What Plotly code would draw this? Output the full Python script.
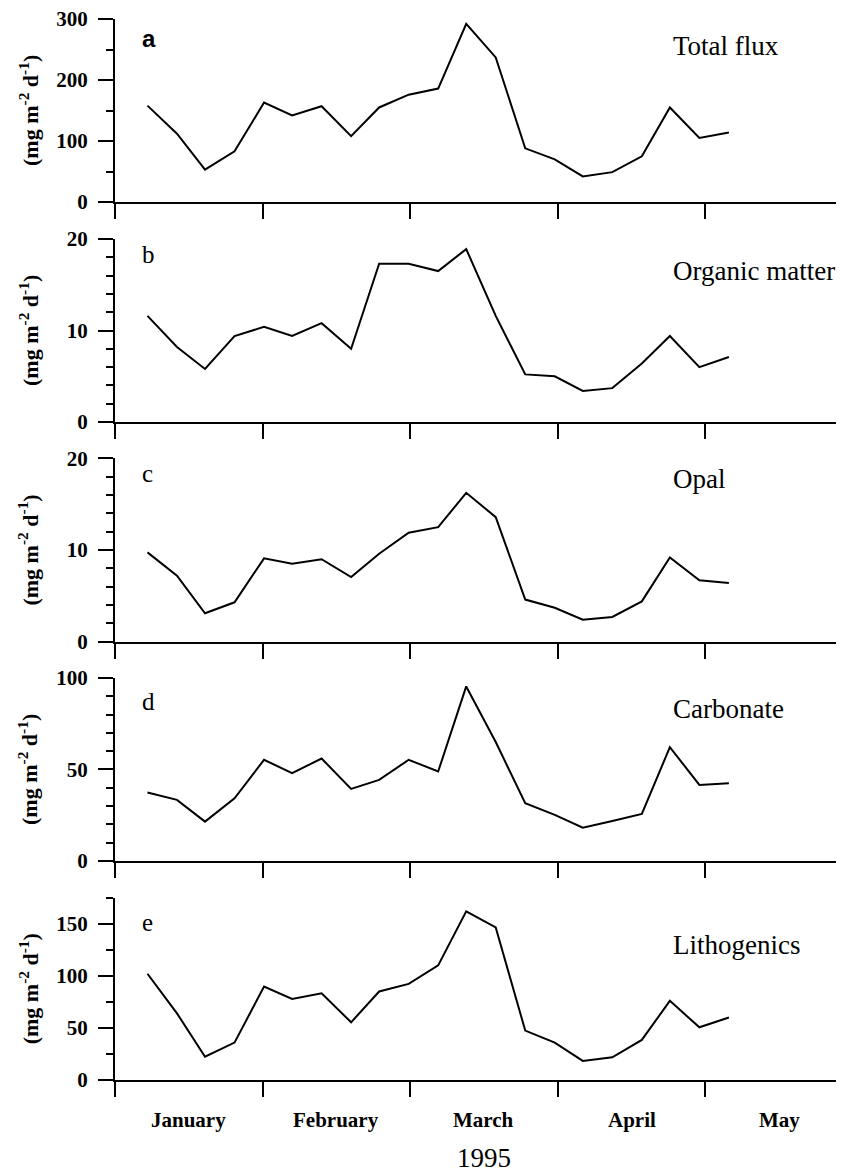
import plotly.graph_objects as go

# sampling positions (in months from 1 January 1995)
x_pos = [0.22, 0.42, 0.61, 0.81, 1.01, 1.20, 1.40, 1.60, 1.79, 1.99, 2.19,
         2.38, 2.58, 2.78, 2.98, 3.17, 3.37, 3.57, 3.76, 3.96, 4.16]

total_flux = [158, 112, 53, 83, 163, 142, 157, 108, 155, 176, 186,
              292, 237, 88, 70, 42, 49, 75, 155, 105, 114]
organic_matter = [11.6, 8.2, 5.8, 9.4, 10.4, 9.4, 10.8, 8.0, 17.3, 17.3, 16.5,
                  18.9, 11.6, 5.2, 5.0, 3.4, 3.7, 6.4, 9.4, 6.0, 7.1]
opal = [9.75, 7.2, 3.1, 4.3, 9.1, 8.5, 9.0, 7.05, 9.6, 11.9, 12.5,
        16.25, 13.6, 4.6, 3.7, 2.4, 2.7, 4.4, 9.2, 6.7, 6.4]
carbonate = [37.4, 33.4, 21.5, 34.3, 55.3, 48, 56, 39.4, 44.3, 55.3, 48.9,
             95.4, 65, 31.6, 25.2, 18.2, 21.9, 25.7, 62.2, 41.6, 42.5]
lithogenics = [102, 64, 22.4, 35.9, 89.7, 77.9, 83.3, 55.4, 85, 92.3, 110,
               162, 146.5, 47.4, 35.9, 18.3, 21.8, 38.5, 76, 50.6, 60]

panel_letters = ["a", "b", "c", "d", "e"]
panel_titles = ["Total flux", "Organic matter", "Opal", "Carbonate", "Lithogenics"]
series = [total_flux, organic_matter, opal, carbonate, lithogenics]
y_ranges = [[0, 300], [0, 20], [0, 20], [0, 100], [0, 175]]
y_major = [[0, 100, 200, 300], [0, 10, 20], [0, 10, 20], [0, 50, 100], [0, 50, 100, 150]]
y_minor = [50, 2, 2, 10, 25]

month_ticks = [0, 1, 2, 3, 4]
month_labels = ["January", "February", "March", "April", "May"]
month_label_pos = [0.5, 1.5, 2.5, 3.5, 4.5]
year_label = "1995"
y_unit = "<b>(mg m<sup>-2</sup> d<sup>-1</sup>)</b>"

# layout geometry (paper fractions)
domains = [[0.8275, 1.0], [0.6202, 0.7926], [0.4131, 0.5858],
           [0.2064, 0.3789], [0.0, 0.1718]]
title_y = [0.975, 0.7625, 0.5664, 0.3497, 0.1272]
letter_y = [0.982, 0.7776, 0.5712, 0.3572, 0.1489]

SERIF = "Liberation Serif, Times New Roman, serif"

fig = go.Figure()
layout = {}
annotations = []
for i in range(5):
    n = i + 1
    xa = "x" if n == 1 else f"x{n}"
    ya = "y" if n == 1 else f"y{n}"
    fig.add_trace(go.Scatter(x=x_pos, y=series[i], mode="lines",
                             line=dict(color="black", width=2),
                             xaxis=xa, yaxis=ya, showlegend=False,
                             hoverinfo="x+y"))
    layout["xaxis" if n == 1 else f"xaxis{n}"] = dict(
        domain=[0, 1], anchor=ya, range=[0, 4.94],
        tickmode="array", tickvals=month_ticks, showticklabels=False,
        ticks="outside", ticklen=15, tickwidth=2, tickcolor="black",
        showline=True, linecolor="black", linewidth=2,
        showgrid=False, zeroline=False, fixedrange=True)
    layout["yaxis" if n == 1 else f"yaxis{n}"] = dict(
        domain=domains[i], anchor=xa, range=y_ranges[i],
        tickmode="array", tickvals=y_major[i],
        ticks="outside", ticklen=15, tickwidth=2, tickcolor="black",
        minor=dict(dtick=y_minor[i], tick0=0, ticks="outside", ticklen=7,
                   tickwidth=1.5, tickcolor="black"),
        ticklabelstandoff=6, ticklabeloverflow="allow",
        tickfont=dict(family=SERIF, size=21, color="black", weight="bold"),
        showline=True, linecolor="black", linewidth=2,
        showgrid=False, zeroline=False, fixedrange=True)
    annotations.append(dict(text=panel_titles[i], xref="paper", yref="paper",
                            x=0.7627, y=title_y[i], xanchor="left", yanchor="middle",
                            showarrow=False,
                            font=dict(family=SERIF, size=27, color="black")))
    annotations.append(dict(text=panel_letters[i], xref="paper", yref="paper",
                            x=0.034, y=letter_y[i], xanchor="left", yanchor="middle",
                            showarrow=False,
                            font=dict(family=SERIF if i else "Liberation Sans, Arial, sans-serif",
                                      size=25 if i else 24, color="black",
                                      weight="normal" if i else "bold")))
    annotations.append(dict(text=y_unit, xref="paper", yref="paper",
                            x=-0.1187, y=(domains[i][0] + domains[i][1]) / 2,
                            xanchor="center", yanchor="middle", textangle=-90,
                            showarrow=False,
                            font=dict(family=SERIF, size=22, color="black")))

for lab, pos in zip(month_labels, month_label_pos):
    annotations.append(dict(text=lab, xref="x5", yref="paper", x=pos, y=-0.0377,
                            xanchor="center", yanchor="middle", showarrow=False,
                            font=dict(family=SERIF, size=21, color="black", weight="bold")))
annotations.append(dict(text=year_label, xref="x5", yref="paper", x=2.5, y=-0.0735,
                        xanchor="center", yanchor="middle", showarrow=False,
                        font=dict(family=SERIF, size=27, color="black")))

fig.update_layout(**layout)
# the page adds an 8 px body margin, so the figure is 8 px smaller than the window
fig.update_layout(width=836, height=1166, margin=dict(l=107, r=0, t=11, b=94),
                  paper_bgcolor="white", plot_bgcolor="white",
                  annotations=annotations, showlegend=False)
fig.write_html("out.html")
